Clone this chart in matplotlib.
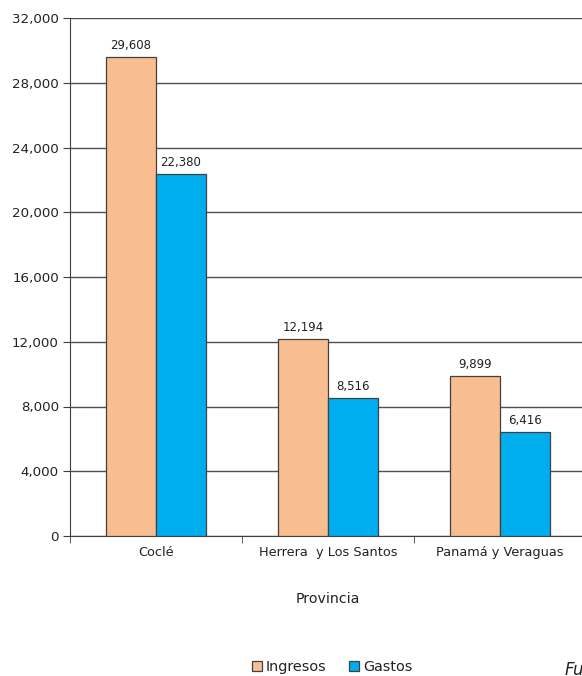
import numpy as np
import matplotlib.pyplot as plt
from matplotlib.ticker import FuncFormatter

# datos
provincias = ['Coclé', 'Herrera  y Los Santos', 'Panamá y Veraguas']
ingresos = [29608, 12194, 9899]
gastos = [22380, 8516, 6416]
series = ['Ingresos', 'Gastos']

plt.rcParams['font.family'] = ['DejaVu Sans']

fig = plt.figure(figsize=(5.82, 6.76), dpi=100)
ax = fig.add_axes([70/582, 1-536/676, 516/582, 518/676])

x = np.arange(len(provincias))
w = 0.29
b1 = ax.bar(x - w/2, ingresos, w, color='#F9BE8F', edgecolor='#404040', linewidth=0.9, label=series[0], zorder=3)
b2 = ax.bar(x + w/2, gastos, w, color='#00AEEF', edgecolor='#404040', linewidth=0.9, label=series[1], zorder=3)

for bars, vals in [(b1, ingresos), (b2, gastos)]:
    for r, v in zip(bars, vals):
        ax.text(r.get_x() + r.get_width()/2, v + 300, f'{v:,}', ha='center', va='bottom', fontsize=8.5, color='#222222')

ax.set_xlim(-0.5, 2.5)
ax.set_ylim(0, 32000)
ax.set_yticks(np.arange(0, 32001, 4000))
ax.yaxis.set_major_formatter(FuncFormatter(lambda v, p: f'{int(v):,}'))
ax.yaxis.grid(True, color='#505050', linewidth=1.0, zorder=0)
ax.set_xticks(x)
ax.set_xticklabels(provincias, fontsize=9.3, color='#222222')
ax.set_xticks([-0.5, 0.5, 1.5], minor=True)
ax.tick_params(axis='x', which='major', length=0, pad=7)
ax.tick_params(axis='x', which='minor', length=5, color='#404040')
ax.tick_params(axis='y', length=5, color='#404040', labelsize=9.6, pad=3, labelcolor='#222222')

for s in ['top', 'right']:
    ax.spines[s].set_visible(False)
ax.spines['left'].set_color('#404040')
ax.spines['bottom'].set_color('#404040')

ax.set_xlabel('Provincia', fontsize=10.2, labelpad=24, color='#222222')

fig.legend(handles=[b1, b2], loc='center', bbox_to_anchor=(332/582, 1-667/676), ncol=2,
           frameon=False, fontsize=10.4, handlelength=0.7, handleheight=0.7,
           handletextpad=0.25, columnspacing=1.6, labelcolor='#222222')

fig.text(565/582, 1-670/676, 'Fuente', fontsize=12, style='italic', va='center', ha='left', color='#222222')

fig.savefig('out.png', dpi=100)
